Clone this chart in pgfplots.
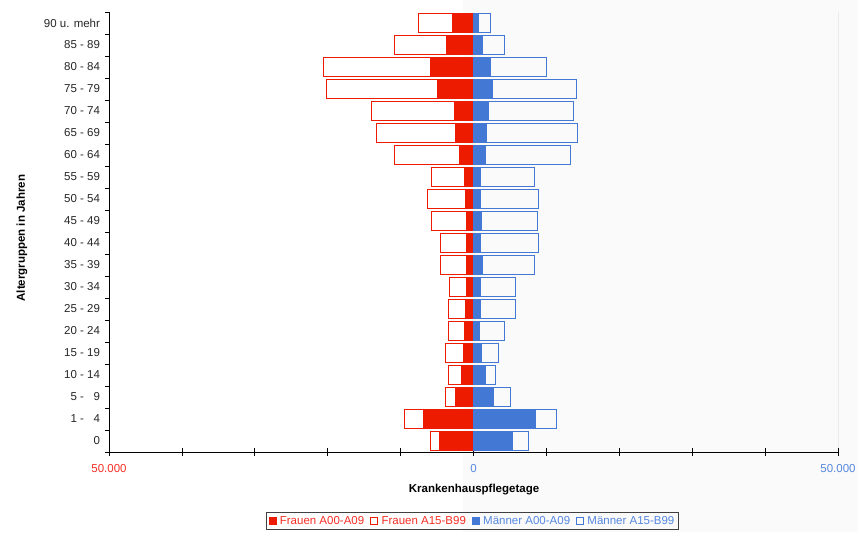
\documentclass[border=0pt]{standalone}
\usepackage{pgfplots}
\pgfplotsset{compat=1.18}
\usepackage{pgfplotstable}
\usepackage{fontspec}
\setmainfont{Liberation Sans}
\definecolor{fr}{RGB}{237,28,0}
\definecolor{frt}{RGB}{245,45,35}
\definecolor{mn}{RGB}{67,120,213}
\definecolor{mnt}{RGB}{85,135,222}
\definecolor{bgg}{RGB}{250,250,250}
\newcommand{\fsz}{\fontsize{11.5pt}{13pt}\selectfont}
% y: 0 = "0", 19 = "90 u. mehr"; fa = A00-A09, fb = A15-B99
\pgfplotstableread{
y fa fb
0 -4600 -1300
1 -6900 -2600
2 -2500 -1400
3 -1600 -1800
4 -1400 -2500
5 -1200 -2200
6 -1100 -2300
7 -1000 -2300
8 -1000 -3500
9 -1000 -3500
10 -1000 -4700
11 -1100 -5200
12 -1200 -4500
13 -1900 -8900
14 -2500 -10800
15 -2600 -11400
16 -4900 -15300
17 -5900 -14700
18 -3700 -7100
19 -2900 -4700
}\women
\pgfplotstableread{
y ma mb
0 5300 2200
1 8500 2900
2 2800 2300
3 1700 1300
4 1100 2300
5 800 3500
6 1000 4800
7 1000 4700
8 1200 7100
9 1000 7900
10 1100 7700
11 1000 7900
12 1000 7400
13 1600 11700
14 1800 12400
15 2100 11600
16 2600 11500
17 2300 7700
18 1200 3000
19 700 1600
}\men
\begin{document}
\begin{tikzpicture}
\path[use as bounding box] (0,0) rectangle (858pt,532pt);
\fill[bgg] (463pt,0) rectangle (858pt,532pt);
\draw[black!8] (838pt,80pt) -- (838pt,520pt);
\pgfplotsset{pyr/.style={at={(109pt,80pt)},anchor=south west,scale only axis,
  width=729pt,height=440pt,xmin=-50000,xmax=50000,ymin=-0.5,ymax=19.5,
  xbar stacked, bar width=19.5pt,
  legend image code/.code={\draw[#1,line width=0.8pt] (0pt,-3.5pt) rectangle (7pt,3.5pt);}}}
\begin{axis}[pyr, axis lines*=left,
  axis line style={black,line width=0.8pt},
  /pgf/number format/assume math mode=true,
  scaled x ticks=false,
  xtick={-50000,-40000,...,50000},
  xticklabels={\textcolor{frt}{50.000},{},{},{},{},\textcolor{mnt}{0},{},{},{},{},\textcolor{mnt}{50.000}},
  xtick align=center, major tick length=7pt,
  ytick={0,...,19},
  yticklabels={0,1 - \phantom{1}4,5 - \phantom{1}9,10 - 14,15 - 19,20 - 24,25 - 29,30 - 34,35 - 39,40 - 44,45 - 49,50 - 54,55 - 59,60 - 64,65 - 69,70 - 74,75 - 79,80 - 84,85 - 89,90 u. mehr},
  minor ytick={-0.5,0.5,...,19.5}, minor tick length=4pt, ytick align=outside,
  every major y tick/.style={draw=none},
  tick style={black,line width=0.8pt},
  tick label style={font=\fsz},
  yticklabel style={text=black!85,xshift=1.5pt},
  xticklabel style={yshift=-5.5pt},
  xlabel={Krankenhauspflegetage},
  ylabel={Altergruppen in Jahren},
  every axis x label/.style={at={(axis description cs:0.5007,-0.0864)},anchor=center,font=\fsz\bfseries},
  every axis y label/.style={at={(axis description cs:-0.1193,0.486)},rotate=90,anchor=center,font=\fsz\bfseries},
]
\addplot[fill=fr,draw=fr,line width=1pt] table[x=fa,y=y]{\women};
\addplot[fill=white,draw=fr,line width=1pt] table[x=fb,y=y]{\women};
\end{axis}
\begin{axis}[pyr, hide axis,
  legend columns=4,
  legend style={at={(axis description cs:0.4986,-0.136)},anchor=north,
    draw=black!75,line width=0.8pt,fill=none,font=\fsz,inner xsep=2pt,inner ysep=2pt,
    /tikz/every odd column/.append style={column sep=1.5pt},
    /tikz/every even column/.append style={column sep=4pt}},
]
\addlegendimage{fill=fr,draw=fr}
\addlegendentry{\textcolor{frt}{Frauen A00-A09}}
\addlegendimage{fill=white,draw=fr}
\addlegendentry{\textcolor{frt}{Frauen A15-B99}}
\addplot[fill=mn,draw=mn,line width=1pt] table[x=ma,y=y]{\men};
\addlegendentry{\textcolor{mnt}{Männer A00-A09}}
\addplot[fill=bgg,draw=mn,line width=1pt] table[x=mb,y=y]{\men};
\addlegendentry{\textcolor{mnt}{Männer A15-B99}}
\end{axis}
\end{tikzpicture}
\end{document}
